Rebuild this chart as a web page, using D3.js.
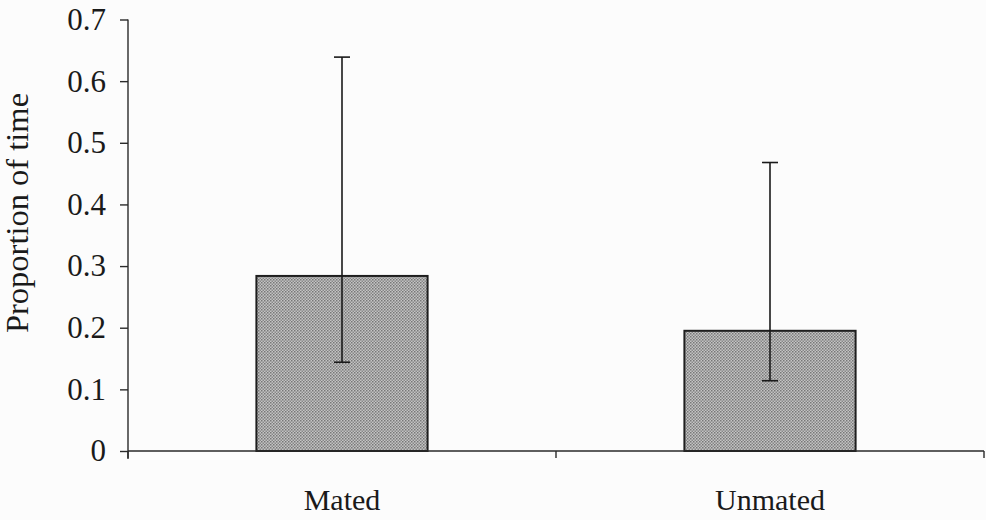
<!DOCTYPE html>
<html>
<head>
<meta charset="UTF-8">
<script src="https://d3js.org/d3.v7.min.js"></script>
<style>
  body { margin: 0; background: #fcfcfc; }
  svg { display: block; }
  .axis text { font-family: "Liberation Serif", "Times New Roman", serif; font-size: 30px; fill: #1a1a1a; }
  .axis.yax text { font-size: 31px; }
  .axis path, .axis line { stroke: #2a2a2a; stroke-width: 1.4; }
</style>
</head>
<body>
<svg id="chart" width="986" height="520"></svg>
<script>
// data
var categories = ["Mated", "Unmated"];
var means = [0.284, 0.195];
var upperErr = [0.639, 0.468];
var lowerErr = [0.144, 0.114];
var yTicks = [0, 0.1, 0.2, 0.3, 0.4, 0.5, 0.6, 0.7];

var svg = d3.select('#chart');
var plotLeft = 128, plotRight = 984, plotTop = 19.5, plotBottom = 451;

var x = d3.scaleBand().domain(categories).range([plotLeft, plotRight])
  .paddingInner(0.6).paddingOuter(0.3);
var y = d3.scaleLinear().domain([0, 0.7]).range([plotBottom, plotTop]);

// stipple fill for the bars
var pat = svg.append('defs').append('pattern')
  .attr('id', 'stipple').attr('patternUnits', 'userSpaceOnUse')
  .attr('width', 3).attr('height', 3);
pat.append('rect').attr('width', 3).attr('height', 3).attr('fill', '#c4c4c4');
pat.append('rect').attr('width', 1.5).attr('height', 1.5).attr('fill', '#777');
pat.append('rect').attr('x', 1.5).attr('y', 1.5).attr('width', 1.5).attr('height', 1.5).attr('fill', '#888');

var rows = categories.map(function(c, i) {
  return { name: c, mean: means[i], hi: upperErr[i], lo: lowerErr[i] };
});

svg.selectAll('.bar')
  .data(rows)
  .join('rect')
  .attr('class', 'bar')
  .attr('x', function(d) { return x(d.name); })
  .attr('y', function(d) { return y(d.mean); })
  .attr('width', x.bandwidth())
  .attr('height', function(d) { return y(0) - y(d.mean); })
  .attr('fill', 'url(#stipple)')
  .attr('stroke', '#1e1e1e')
  .attr('stroke-width', 2);

// error bars
var cx = function(d) { return x(d.name) + x.bandwidth() / 2; };
var eb = svg.selectAll('.err').data(rows).join('g').attr('class', 'err')
  .attr('stroke', '#1a1a1a').attr('stroke-width', 1.6);
eb.append('line')
  .attr('x1', cx).attr('x2', cx)
  .attr('y1', function(d) { return y(d.hi); })
  .attr('y2', function(d) { return y(d.lo); });
eb.append('line')
  .attr('x1', function(d) { return cx(d) - 8; }).attr('x2', function(d) { return cx(d) + 8; })
  .attr('y1', function(d) { return y(d.hi); }).attr('y2', function(d) { return y(d.hi); });
eb.append('line')
  .attr('x1', function(d) { return cx(d) - 8; }).attr('x2', function(d) { return cx(d) + 8; })
  .attr('y1', function(d) { return y(d.lo); }).attr('y2', function(d) { return y(d.lo); });

// y axis
var yAxis = d3.axisLeft(y).tickValues(yTicks).tickSize(8).tickSizeOuter(0).tickPadding(14)
  .tickFormat(function(d) { return d === 0 ? '0' : d.toFixed(1); });
var gy = svg.append('g').attr('class', 'axis yax').attr('transform', 'translate(' + plotLeft + ',0)').call(yAxis);
gy.select('.domain').remove();
gy.append('line').attr('x1', 0).attr('x2', 0).attr('y1', y(0.7)).attr('y2', y(0) + 8);

// x axis
var xAxis = d3.axisBottom(x).tickSize(0).tickPadding(38);
var gx = svg.append('g').attr('class', 'axis').attr('transform', 'translate(0,' + plotBottom + ')').call(xAxis);
gx.select('.domain').remove();
gx.append('line').attr('x1', plotLeft).attr('x2', plotRight).attr('y1', 0).attr('y2', 0);
var bounds = [plotLeft].concat(categories.map(function(c) {
  return x(c) + x.bandwidth() + (x.step() - x.bandwidth()) / 2;
}));
gx.selectAll('.bound').data(bounds).join('line').attr('class', 'bound')
  .attr('x1', function(d) { return d; }).attr('x2', function(d) { return d; })
  .attr('y1', 0).attr('y2', 7);

// y title
svg.append('text')
  .attr('transform', 'translate(28,' + 213 + ') rotate(-90)')
  .attr('text-anchor', 'middle')
  .style('font-family', '"Liberation Serif", "Times New Roman", serif')
  .style('font-size', '32.5px').style('fill', '#1a1a1a')
  .text('Proportion of time');
</script>
</body>
</html>
